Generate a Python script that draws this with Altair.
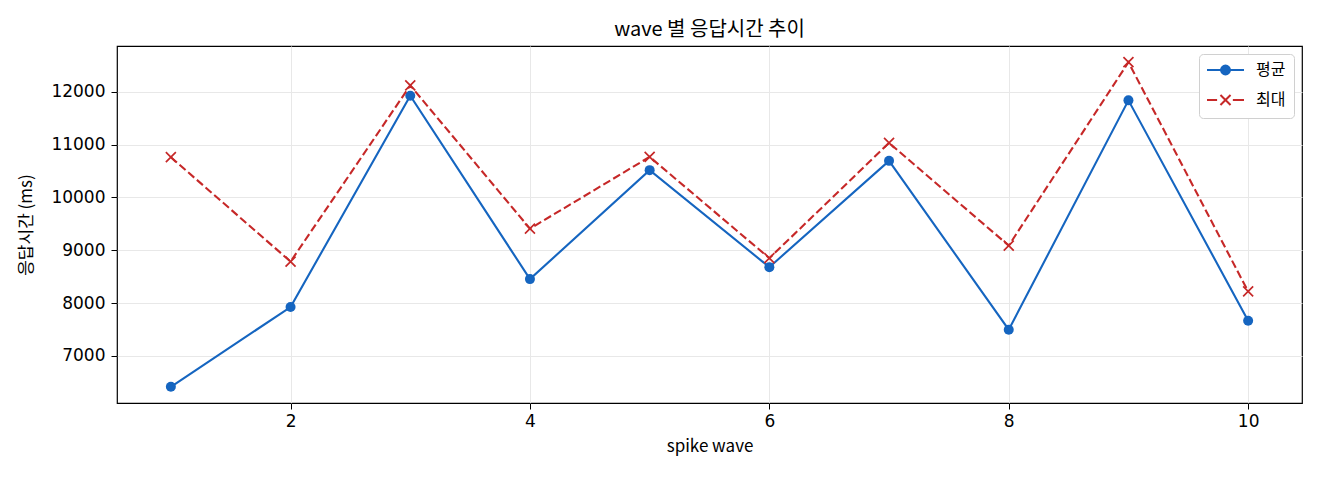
import pandas as pd
import altair as alt

# data
waves = list(range(1, 11))
avg_ms = [6415, 7925, 11925, 8453, 10515, 8679, 10691, 7496, 11836, 7666]
max_ms = [10760, 8785, 12119, 9408, 10766, 8849, 11031, 9087, 12558, 8219]
series_names = ["평균", "최대"]
x_ticks = [2, 4, 6, 8, 10]
y_ticks = [7000, 8000, 9000, 10000, 11000, 12000]

df = pd.DataFrame({"wave": waves, "avg": avg_ms, "max": max_ms})
long_df = df.melt(id_vars="wave", value_vars=["avg", "max"], var_name="key", value_name="ms")
long_df["series"] = long_df["key"].map({"avg": series_names[0], "max": series_names[1]})

BLUE = "#1565c0"
RED = "#c62828"
FONT = "Noto Sans CJK KR"
NUM_FONT = "DejaVu Sans"

x_enc = alt.X(
    "wave:Q",
    title="spike wave",
    scale=alt.Scale(domain=[0.55, 10.45], nice=False, zero=False),
    axis=alt.Axis(values=x_ticks, format="d", labelPadding=4, titlePadding=9))
y_enc = alt.Y(
    "ms:Q",
    title="응답시간 (ms)",
    scale=alt.Scale(domain=[6108, 12865], nice=False, zero=False),
    axis=alt.Axis(values=y_ticks, format="d", labelPadding=6, titlePadding=15))

base = alt.Chart(long_df).encode(x=x_enc, y=y_enc)
avg_base = base.transform_filter(alt.datum.series == series_names[0])
max_base = base.transform_filter(alt.datum.series == series_names[1])

avg_line = avg_base.mark_line(color=BLUE, strokeWidth=2.1)
avg_pts = avg_base.mark_point(shape="circle", filled=True, color=BLUE, size=100, opacity=1)
max_line = max_base.mark_line(color=RED, strokeWidth=2.1, strokeDash=[8, 3.5])
max_pts = max_base.mark_point(
    shape="M-1,-1L1,1M-1,1L1,-1", filled=False, color=RED, size=100, strokeWidth=1.7, opacity=1)

# legend symbols: line + marker, like matplotlib (drawn at 2.64x the symbol box)
avg_sym = "M-2.64,0H2.64M-0.64,0A0.64,0.64 0 1 1 0.64,0A0.64,0.64 0 1 1 -0.64,0Z"
max_sym = "M-2.64,0H-1.2M1.05,0H2.64M-0.72,-0.72L0.72,0.72M-0.72,0.72L0.72,-0.72"

legend = alt.Legend(
    title=None, orient="top-right", offset=8, padding=8,
    strokeColor="#d0d0d0", cornerRadius=4, fillColor="white",
    labelFont=FONT, labelFontSize=16, labelColor="black", rowPadding=11,
    symbolSize=196, symbolOffset=10.5, labelOffset=22.5,
    symbolStrokeWidth=2, symbolOpacity=1)

legend_layer = base.mark_point(filled=True, opacity=0).encode(
    shape=alt.Shape("series:N", scale=alt.Scale(domain=series_names, range=[avg_sym, max_sym]), legend=legend),
    fill=alt.Fill("series:N", scale=alt.Scale(domain=series_names, range=[BLUE, RED]), legend=legend),
    stroke=alt.Stroke("series:N", scale=alt.Scale(domain=series_names, range=[BLUE, RED]), legend=legend))

chart = alt.layer(avg_line, avg_pts, max_line, max_pts, legend_layer).properties(
    width=1185,
    height=357,
    autosize=alt.AutoSizeParams(type="none"),
    padding={"left": 109, "top": 38, "right": 10, "bottom": 69},
    title=alt.TitleParams(
        "wave 별 응답시간 추이", font=FONT, fontSize=20, fontWeight="normal",
        color="black", anchor="middle", offset=6))

chart = chart.configure_axis(
    labelFont=NUM_FONT,
    labelFontSize=17,
    labelColor="black",
    titleFont=FONT,
    titleFontSize=17,
    titleFontWeight="normal",
    titleColor="black",
    tickColor="black",
    tickSize=6,
    domain=False,
    gridColor="#e8e8e8",
    gridWidth=1).configure_view(
    stroke="black",
    strokeWidth=1.2)

chart.save("out.html", embed_options={"renderer": "svg", "actions": False})
